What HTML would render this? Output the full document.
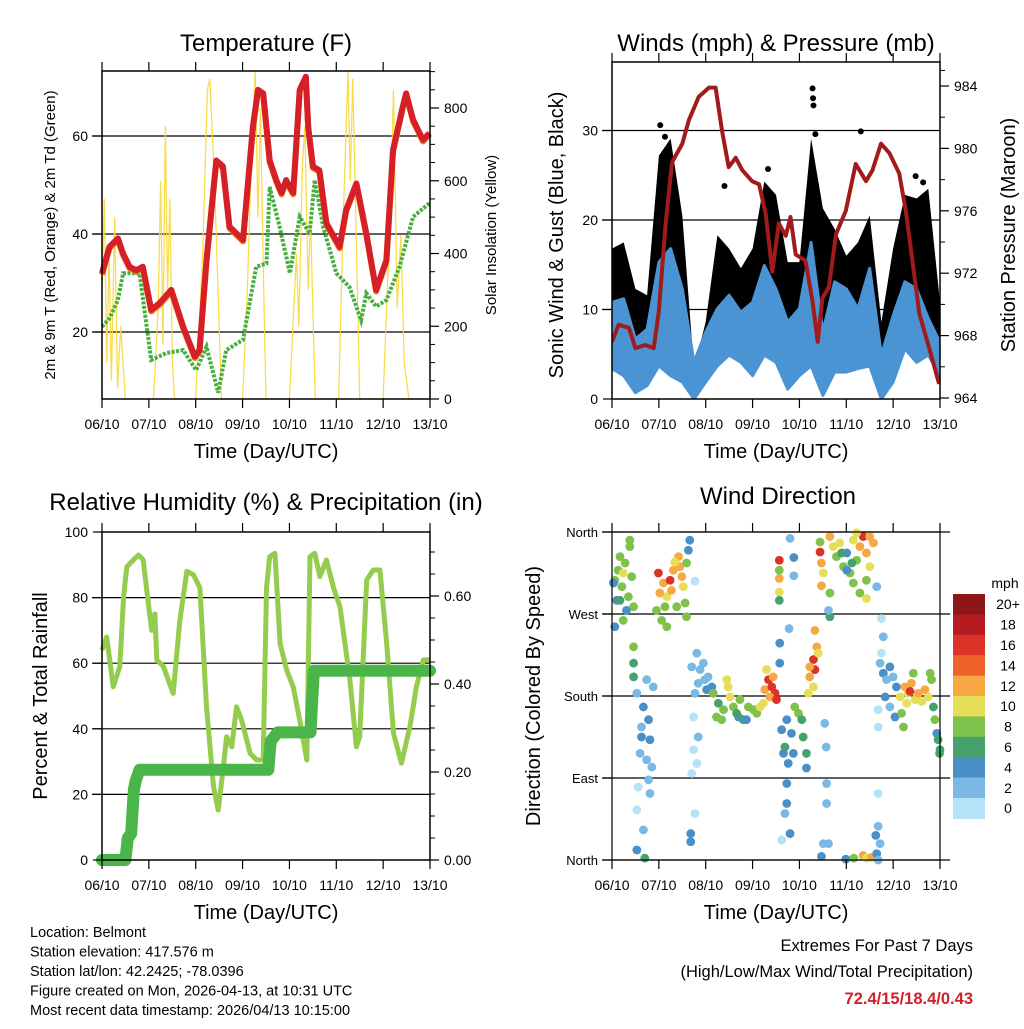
<!DOCTYPE html>
<html><head><meta charset="utf-8"><style>
body{margin:0;background:#fff;}
svg text{font-family:"Liberation Sans",sans-serif;fill:#000;}
</style></head><body>
<svg id="c" width="1024" height="1024" viewBox="0 0 1024 1024" xmlns="http://www.w3.org/2000/svg"></svg>
<script>
// ---------- DATA ----------
const dayLabels = ["06/10","07/10","08/10","09/10","10/10","11/10","12/10","13/10"];
// Temperature panel
const tempT = [0,0.16,0.34,0.45,0.59,0.73,0.87,1.05,1.23,1.48,1.73,1.98,2.08,2.23,2.44,2.58,2.72,2.87,3.01,3.22,3.33,3.44,3.58,3.72,3.83,3.93,4.08,4.22,4.35,4.40,4.50,4.64,4.79,5.07,5.21,5.43,5.64,5.85,6.07,6.21,6.42,6.49,6.64,6.85,6.99];
const tempV = [32,37.4,39.1,36,33.3,32.6,33.3,24.5,25.9,28.6,21.1,15,16.3,34.7,55,53.8,41.5,40.1,38.8,61.9,69.4,68.7,55,51,48.4,51,48.4,69.4,72.1,61.9,53.8,53,42.2,37.4,44.9,50.3,40.1,28.6,34.7,57.1,66,68.7,63.3,59.2,60.6];
const dewT = [0,0.16,0.34,0.45,0.80,1.05,1.37,1.73,2.01,2.23,2.48,2.65,3.01,3.29,3.51,3.58,3.79,4.01,4.22,4.43,4.54,4.72,5.0,5.28,5.53,5.64,5.85,6.07,6.35,6.64,6.99];
const dewV = [21.1,22.8,26.5,32,32,14.3,15.7,16.3,12.2,17,7.6,16.3,18.4,33.3,34,49.6,41.5,32,43.5,40.1,51,41.5,32,29.2,22.4,27.9,25.2,26.5,33.3,43.5,46.3];
const solarT = [0,0.05,0.1,0.15,0.2,0.27,0.33,0.4,0.5,1.1,1.2,1.25,1.3,1.35,1.4,1.45,1.5,1.55,2.0,2.15,2.25,2.3,2.4,2.55,3.0,3.1,3.2,3.27,3.33,3.38,3.45,3.5,4.0,4.15,4.2,4.28,4.33,4.4,4.45,4.55,5.05,5.15,5.25,5.3,5.35,5.45,5.5,6.0,6.15,6.22,6.3,6.38,6.45,6.55,7];
const solarV = [300,550,100,400,50,500,30,200,0,0,250,600,150,750,300,550,100,0,0,400,850,880,600,0,0,300,700,900,500,800,300,0,0,400,200,650,750,300,500,0,0,500,900,600,880,300,0,0,500,850,250,450,100,0,0];
// Winds panel
const windT = [0,0.25,0.5,0.75,1,1.25,1.5,1.75,2,2.25,2.5,2.75,3,3.25,3.5,3.75,4,4.25,4.5,4.75,5,5.25,5.5,5.75,6,6.25,6.5,6.75,7];
const windHi = [10.8,11.2,6.7,7.8,15.3,16.8,12.3,4.1,7.5,10.1,11.6,9.7,10.8,14.9,12.3,8.6,10.1,17.5,7.5,13.1,12.3,10.1,14.6,4.9,9.3,13.1,12.3,9,6.3];
const windLo = [3.4,2.6,0.7,1.5,3.7,2.6,1.9,0,1.9,3.7,4.9,4.1,2.6,4.9,4.1,1.1,2.6,3.7,0.4,3,3,3.4,3.7,0,1.9,5.6,4.1,4.9,2.6];
const gustHi = [16.8,17.5,12.3,11.6,27.2,29.1,20.5,3.4,8.6,18.3,16.8,14.6,16.8,24.3,22.8,15.3,15.3,29.1,21.3,19,16,17.5,20.5,8.6,16.8,22.8,22.4,23.5,10.8];
const gustOutT = [1.03,1.13,1.18,4.28,4.29,4.30,4.34,5.31,2.4,3.33,6.48,6.64];
const gustOutV = [30.6,29.3,27.5,34.7,33.6,32.8,29.6,29.9,23.8,25.7,24.9,24.2];
const presT = [0,0.14,0.36,0.5,0.71,0.89,1.0,1.14,1.28,1.5,1.64,1.85,2.07,2.21,2.35,2.49,2.64,2.78,2.99,3.14,3.28,3.42,3.56,3.71,3.81,3.92,4.13,4.28,4.39,4.49,4.63,4.78,4.99,5.2,5.42,5.56,5.74,5.92,6.13,6.27,6.41,6.56,6.77,6.98];
const presV = [967.6,968.7,968.5,967.2,967.4,967.2,969.6,975,979.1,980.3,981.8,983.3,983.9,983.9,981.1,978.8,979.4,978.6,977.9,977.7,975.8,972.1,975.2,974.4,975.6,973.2,972.8,970.2,967.6,970.4,971.1,974.5,976,979,977.9,978.6,980.3,979.7,978.4,976,972.8,969.4,967.2,964.9];
// RH panel
const rhT = [0,0.1,0.24,0.38,0.46,0.53,0.67,0.78,0.88,0.99,1.06,1.13,1.17,1.31,1.52,1.66,1.81,1.95,2.09,2.23,2.38,2.48,2.59,2.66,2.77,2.87,2.98,3.16,3.3,3.44,3.51,3.58,3.69,3.8,3.94,4.08,4.22,4.37,4.44,4.54,4.65,4.79,4.94,5.08,5.29,5.43,5.5,5.65,5.79,5.93,6.07,6.22,6.39,6.57,6.71,6.86,7];
const rhV = [64,68,52.8,59,80.3,89.4,91.5,93,91.5,78,70,75,61,59,50.8,73,88,87,83,46.7,22.4,15.2,28.5,37.6,34.5,46.7,42.7,32.5,30.5,30.5,83,92.5,93.5,66,58,52.8,42.7,30.5,92.5,93.5,86.4,91.5,83,77.2,54.9,34.5,37.6,85.4,88.4,88.4,67,38.6,29.5,40.6,52.8,61,61];
const precipT = [0,0.5,0.55,0.62,0.68,0.72,0.8,3.55,3.6,3.75,4.45,4.52,7];
const precipV = [0,0,0.05,0.06,0.16,0.18,0.205,0.205,0.27,0.29,0.29,0.43,0.43];
// Wind direction panel
const dirT = [0.06,0.13,0.21,0.28,0.35,0.42,0.10,0.24,0.17,0.38,0.46,0.31,0.06,0.24,0.46,0.46,0.46,0.38,0.03,0.17,
0.53,0.67,0.63,0.78,0.81,0.60,0.74,0.85,0.56,0.53,0.67,0.53,0.81,0.74,0.88,0.63,0.78,0.70,
0.99,1.10,1.17,1.24,1.31,1.42,1.49,1.02,1.13,0.95,1.27,1.38,1.52,1.59,1.63,1.66,1.56,1.06,1.59,1.17,1.45,1.34,
1.70,1.77,1.74,1.74,1.81,1.70,1.77,1.68,1.68,1.84,1.81,1.77,
1.88,1.98,2.02,1.84,1.95,2.05,2.13,
2.16,2.27,2.38,2.48,2.52,2.59,2.70,2.80,2.91,3.02,3.09,3.16,2.23,2.45,2.73,2.87,2.34,2.66,
3.26,3.34,3.41,3.48,3.37,3.30,3.51,3.44,3.23,
3.62,3.69,3.73,3.83,3.90,3.98,4.05,4.08,4.15,4.15,3.87,3.66,3.76,3.73,3.73,3.69,3.62,3.80,3.58,3.58,
4.19,4.22,4.30,4.33,4.37,4.33,4.30,4.40,4.22,
3.57,3.57,3.57,3.57,3.57,3.80,3.88,3.88,3.78,
4.44,4.44,4.47,4.51,4.65,4.72,4.79,4.86,4.94,5.01,5.08,5.15,5.22,5.29,5.36,5.43,5.50,5.58,5.50,5.43,5.29,5.15,4.65,4.65,4.62,5.65,5.43,4.47,5.01,5.22,4.90,5.12,
4.54,4.57,4.58,4.58,4.51,4.62,4.47,
4.99,5.16,5.36,5.43,5.54,5.65,5.68,5.63,5.68,5.72,5.68,
5.75,5.79,5.72,5.79,5.86,5.93,6.00,6.07,5.83,5.93,6.04,5.68,5.68,5.75,
6.15,6.25,6.32,6.39,6.47,6.54,6.61,6.68,6.75,6.82,6.79,6.18,6.22,6.86,6.89,6.93,6.96,7.0,6.99,6.43,6.29,6.36];
const dirD = [307,318,300,326,289,311,285,315,333,344,278,274,256,263,234,216,201,351,304,285,
183,168,146,154,132,117,110,102,80,55,33,11,73,198,190,135,88,2,
315,304,289,307,318,333,311,293,278,274,296,278,300,326,340,351,282,263,267,256,322,327,
212,183,157,121,106,95,51,29,20,135,227,306,
209,198,187,194,216,201,190,
183,172,165,190,179,168,157,154,168,165,161,168,157,198,176,154,154,161,
187,198,190,183,179,209,176,201,172,
143,124,154,139,168,161,154,135,117,101,117,117,106,84,62,51,22,29,238,216,
183,201,220,209,234,252,190,227,212,
329,309,294,285,318,353,332,312,254,
349,338,326,315,355,344,333,348,322,337,315,351,329,344,355,337,322,348,355,307,293,304,293,267,274,300,287,301,318,359,337,326,
150,124,84,62,18,18,4,
1,2,5,2,3,7,0,27,37,18,73,
265,245,216,205,198,212,201,190,179,168,157,165,146,227,
179,190,183,194,176,183,174,187,179,198,205,161,146,168,154,139,132,121,117,205,172,185];
const dirS = [9,9,9,9,9,9,5,11,9,9,9,5,5,9,9,7,7,9,5,7,
3,5,3,5,5,3,3,3,1,1,3,5,3,3,3,5,3,7,
17,13,11,17,13,13,13,13,9,9,13,9,11,9,5,5,9,9,9,9,13,11,
3,3,1,1,1,1,1,5,5,3,3,1,
3,3,5,3,3,3,5,
9,7,9,11,11,9,5,7,9,9,9,11,9,11,9,5,9,7,
13,17,17,17,13,11,17,13,11,
5,7,5,5,9,9,7,7,7,5,5,5,5,5,5,3,1,5,5,5,
11,13,17,17,13,13,11,11,13,
17,13,11,7,9,3,5,3,3,
9,17,13,11,13,11,9,11,9,5,9,11,9,13,17,13,11,13,13,9,9,9,9,7,3,3,11,13,5,11,7,7,
3,3,3,3,3,3,5,
5,9,13,11,13,5,3,5,3,3,1,
1,3,3,5,3,5,3,5,5,3,5,1,1,1,
11,13,11,13,11,13,11,13,11,9,9,9,9,7,9,5,7,7,7,9,11,17];
const speedBins = ["20+","18","16","14","12","10","8","6","4","2","0"];
const binColors = ["#8d1619","#b51c22","#db3327","#ee6229","#f6a843","#e6de58","#7ec24b","#46a26d","#4a8fc6","#7ab9e4","#b5e2f7"];

// ---------- DRAWING ----------
const NS="http://www.w3.org/2000/svg";
const svg=document.getElementById('c');
function mk(tag,attrs,parent){const e=document.createElementNS(NS,tag);for(const k in attrs)e.setAttribute(k,attrs[k]);(parent||svg).appendChild(e);return e;}
function txt(s,x,y,size,anchor,parent,extra){const t=mk('text',Object.assign({x:x,y:y,'font-size':size,'text-anchor':anchor||'start'},extra||{}),parent);t.textContent=s;return t;}
function lin(a0,a1,b0,b1){return v=>b0+(v-a0)*(b1-b0)/(a1-a0);}
function pathOf(xs,ys,fx,fy){return xs.map((t,i)=>(i?'L':'M')+fx(t).toFixed(1)+','+fy(ys[i]).toFixed(1)).join('');}

function frame(g,x0,x1,y0,y1,grids,fy,name){
  grids.forEach(v=>{const l=mk('line',{x1:x0-10,x2:x1,y1:fy(v),y2:fy(v),stroke:'#000','stroke-width':1.2},g);
  
  });
}
function border(g,x0,x1,y0,y1,fx,name){
  const r=mk('rect',{x:x0,y:y0,width:x1-x0,height:y1-y0,fill:'none',stroke:'#000','stroke-width':1.5},g);
  
  
  for(let i=0;i<8;i++){const x=fx(i);
    mk('line',{x1:x,x2:x,y1:y0,y2:y0-9,stroke:'#000','stroke-width':1.2},g);
    mk('line',{x1:x,x2:x,y1:y1,y2:y1+9,stroke:'#000','stroke-width':1.2},g);
    const t=txt(dayLabels[i],x,y1+30,14,'middle',g);
    
    }
  const xt=txt('Time (Day/UTC)',(x0+x1)/2,y1+59,20,'middle',g);
  
  
}
function leftTicks(g,x0,vals,labels,fy,size){vals.forEach((v,i)=>{mk('line',{x1:x0-9,x2:x0,y1:fy(v),y2:fy(v),stroke:'#000','stroke-width':1.2},g);
  const t=txt(labels[i],x0-14,fy(v)+5,size||14,'end',g);
  
  });}
function rightTicks(g,x1,vals,labels,fy,minor){minor.forEach(v=>mk('line',{x1:x1,x2:x1+5,y1:fy(v),y2:fy(v),stroke:'#000','stroke-width':1},g));
  vals.forEach((v,i)=>{mk('line',{x1:x1,x2:x1+9,y1:fy(v),y2:fy(v),stroke:'#000','stroke-width':1.2},g);
  const t=txt(labels[i],x1+14,fy(v)+5,14,'start',g);
  
  });}
function rotLabel(g,s,x,y,size){const t=txt(s,x,y,size,'middle',g,{transform:`rotate(-90 ${x} ${y})`});return t;}
function title(g,s,x,y){const t=txt(s,x,y,24,'middle',g);}

// ===== Panel 1: Temperature =====
{
const g=mk('g',{});


const x0=102,x1=430,y0=71,y1=399;
const fx=lin(0,7,x0,x1), fy=lin(20,40,332,234), fr=lin(0,800,399,108);
frame(g,x0,x1,y0,y1,[20,40,60],fy,'temp');
const sp=mk('path',{d:pathOf(solarT,solarV,fx,fr),fill:'none',stroke:'#f8d839','stroke-width':1.3,'stroke-opacity':0.9},g);


const dp=mk('path',{d:pathOf(dewT,dewV,fx,fy),fill:'none',stroke:'#45b040','stroke-width':4,'stroke-dasharray':'3 1.5'},g);


const op=mk('path',{d:pathOf(tempT,tempV,fx,v=>fy(v)+1.5),fill:'none',stroke:'#f07a22','stroke-width':6,'stroke-linejoin':'round'},g);


const rp=mk('path',{d:pathOf(tempT,tempV,fx,fy),fill:'none',stroke:'#d42026','stroke-width':6,'stroke-linejoin':'round'},g);


border(g,x0,x1,y0,y1,fx,'temp');
leftTicks(g,x0,[20,40,60],["20","40","60"],fy);
rightTicks(g,x1,[0,200,400,600,800],["0","200","400","600","800"],fr,[50,100,150,250,300,350,450,500,550,650,700,750,850,900]);
const l1=rotLabel(g,'2m & 9m T (Red, Orange) & 2m Td (Green)',55,235,15);


const l2=rotLabel(g,'Solar Insolation (Yellow)',496,235,15);


title(g,'Temperature (F)',266,51);
}
// ===== Panel 2: Winds =====
{
const g=mk('g',{});


const x0=612,x1=940,y0=62,y1=399;
const fx=lin(0,7,x0,x1), fy=lin(0,10,399,309.5), fr=lin(964,984,398,86);
frame(g,x0,x1,y0,y1,[10,20,30],fy,'wind');
const clip=mk('clipPath',{id:'cw'},g);mk('rect',{x:x0,y:y0,width:x1-x0,height:y1-y0},clip);
const cg=mk('g',{'clip-path':'url(#cw)'},g);
let d=pathOf(windT,gustHi,fx,fy)+windT.slice().reverse().map((t,i)=>'L'+fx(t).toFixed(1)+','+fy(windLo[windLo.length-1-i]).toFixed(1)).join('')+'Z';
const gb=mk('path',{d:d,fill:'#000',stroke:'none'},cg);


gustOutT.forEach((t,i)=>{const c=mk('circle',{cx:fx(t),cy:fy(gustOutV[i]),r:3,fill:'#000'},cg);

});
d=pathOf(windT,windHi,fx,fy)+windT.slice().reverse().map((t,i)=>'L'+fx(t).toFixed(1)+','+fy(windLo[windLo.length-1-i]).toFixed(1)).join('')+'Z';
const wb=mk('path',{d:d,fill:'#4a94d4',stroke:'#4a94d4','stroke-width':3,'stroke-linejoin':'round'},cg);


const pp=mk('path',{d:pathOf(presT,presV,fx,fr),fill:'none',stroke:'#a21b1b','stroke-width':4,'stroke-linejoin':'round'},cg);


border(g,x0,x1,y0,y1,fx,'wind');
leftTicks(g,x0,[0,10,20,30],["0","10","20","30"],fy);
rightTicks(g,x1,[964,968,972,976,980,984],["964","968","972","976","980","984"],fr,[966,970,974,978,982,985]);
const l1=rotLabel(g,'Sonic Wind & Gust (Blue, Black)',563,235,20);


const l2=rotLabel(g,'Station Pressure (Maroon)',1015,235,20);


title(g,'Winds (mph) & Pressure (mb)',776,51);
}
// ===== Panel 3: RH & Precip =====
{
const g=mk('g',{});


const x0=102,x1=430,y0=532,y1=860;
const fx=lin(0,7,x0,x1), fy=lin(0,100,860,532), fr=lin(0,0.6,860,596);
frame(g,x0,x1,y0,y1,[20,40,60,80],fy,'rh');
const rp=mk('path',{d:pathOf(rhT,rhV,fx,fy),fill:'none',stroke:'#94cc4e','stroke-width':5,'stroke-linejoin':'round'},g);


const pp=mk('path',{d:pathOf(precipT,precipV,fx,fr),fill:'none',stroke:'#4ab548','stroke-width':12,'stroke-linecap':'round','stroke-linejoin':'round'},g);


border(g,x0,x1,y0,y1,fx,'rh');
leftTicks(g,x0,[0,20,40,60,80,100],["0","20","40","60","80","100"],fy);
rightTicks(g,x1,[0,0.2,0.4,0.6],["0.00","0.20","0.40","0.60"],fr,[0.05,0.1,0.15,0.25,0.3,0.35,0.45,0.5,0.55,0.65,0.7]);
const l1=rotLabel(g,'Percent & Total Rainfall',47,696,20);


title(g,'Relative Humidity (%) & Precipitation (in)',266,510);
}
// ===== Panel 4: Wind Direction =====
{
const g=mk('g',{});


const x0=612,x1=940,y0=532,y1=860;
const fx=lin(0,7,x0,x1), fy=lin(0,360,860,532);
frame(g,x0,x1+10,y0,y1,[0,90,180,270,360],fy,'dir');
function col(s){const idx=Math.min(10,Math.floor(s/2));return binColors[10-idx];}
dirT.forEach((t,i)=>{const c=mk('circle',{cx:fx(t),cy:fy(dirD[i]),r:4.4,fill:col(dirS[i])},g);

});
const r=mk('rect',{x:x0,y:y0,width:x1-x0,height:y1-y0,fill:'none',stroke:'#000','stroke-width':1.2},g);
for(let i=0;i<8;i++){const x=fx(i);
  mk('line',{x1:x,x2:x,y1:y0,y2:y0-9,stroke:'#000','stroke-width':1.2},g);
  mk('line',{x1:x,x2:x,y1:y1,y2:y1+9,stroke:'#000','stroke-width':1.2},g);
  const t=txt(dayLabels[i],x,y1+30,14,'middle',g);
  
  }
const xt=txt('Time (Day/UTC)',(x0+x1)/2,y1+59,20,'middle',g);


leftTicks(g,x0,[0,90,180,270,360],["North","East","South","West","North"],fy,13);
const l1=rotLabel(g,'Direction (Colored By Speed)',540,696,20);


title(g,'Wind Direction',778,504);
// colorbar
const cb=mk('g',{},g);


const bh=20.4;
speedBins.forEach((s,i)=>{const rr=mk('rect',{x:953,y:594+i*bh,width:32,height:bh+0.5,fill:binColors[i]},cb);


const t=txt(s,1008,594+i*bh+bh/2+5,14,'middle',cb);

});
const mu=txt('mph',1005,588,14,'middle',cb);


}
// ===== Footer text =====
{
const g=mk('g',{});


const lines=["Location: Belmont","Station elevation: 417.576 m","Station lat/lon: 42.2425; -78.0396","Figure created on Mon, 2026-04-13, at 10:31 UTC","Most recent data timestamp: 2026/04/13 10:15:00"];
lines.forEach((s,i)=>{const t=txt(s,30,937+i*19.5,14.5,'start',g);

});
const e=mk('g',{});


txt('Extremes For Past 7 Days',973,951,16.5,'end',e);
txt('(High/Low/Max Wind/Total Precipitation)',973,977,16.5,'end',e);
const v=txt('72.4/15/18.4/0.43',973,1004,16.5,'end',e,{'font-weight':'bold',fill:'#d0202a'});
v.style.fill='#d0202a';
}
</script>
</body></html>
